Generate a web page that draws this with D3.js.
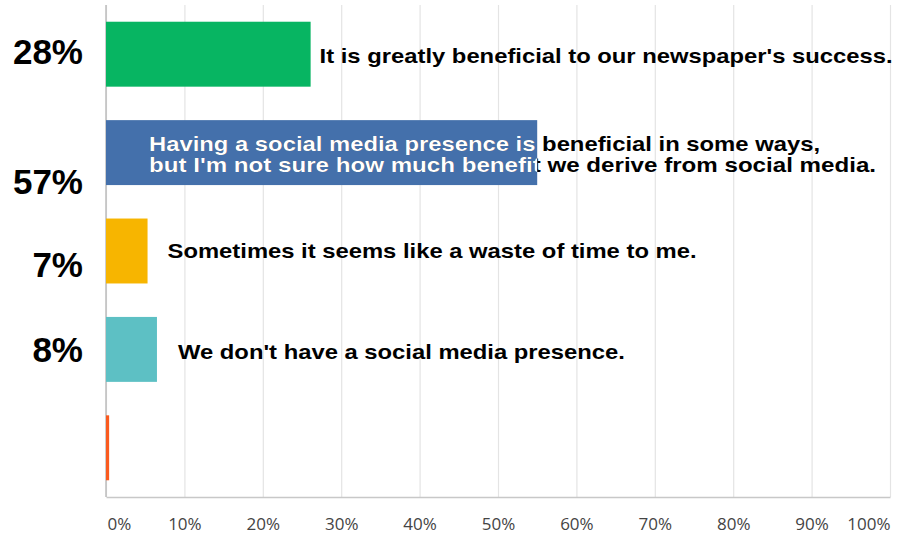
<!DOCTYPE html>
<html>
<head>
<meta charset="utf-8">
<script src="https://cdn.jsdelivr.net/npm/d3@7"></script>
<style>
  body { margin: 0; background: #fff; }
  .tick text { font-family: "Open Sans", sans-serif; font-size: 17px; fill: #444; }
</style>
</head>
<body>
<div id="chart-container"></div>
<script>
"use strict"

// answers, top to bottom
const answers = [
  ["It is greatly beneficial to our newspaper's success."],
  ["Having a social media presence is beneficial in some ways,",
   "but I'm not sure how much benefit we derive from social media."],
  ["Sometimes it seems like a waste of time to me."],
  ["We don't have a social media presence."],
  []
];
// bar lengths as drawn (percent of axis)
const barValues = [26.1, 55.0, 5.3, 6.5, 0.4];
// labels printed at the left
const pctLabels = ["28%", "57%", "7%", "8%", ""];
const barColors = ["#07b562", "#4470ab", "#f7b500", "#5dc0c4", "#fa5a1e"];
const xTicks = [0, 10, 20, 30, 40, 50, 60, 70, 80, 90, 100];

drawChart();

function drawChart(){
  let svgWidth = 910;
  let svgHeight = 535;
  let top = 5, bottom = 497, left = 106, right = 890;

  const svg = d3.select('#chart-container')
    .append('svg')
    .attr('width', svgWidth)
    .attr('height', svgHeight);

  let xScale = d3.scaleLinear().domain([0, 100]).range([left, right]);
  let yScale = d3.scaleBand()
    .domain(d3.range(answers.length))
    .range([top, bottom])
    .paddingInner(0.34)
    .paddingOuter(0.17);

  // gridlines
  const grid = svg.append('g')
    .attr('transform', 'translate(0,' + bottom + ')')
    .call(d3.axisBottom(xScale).tickValues(xTicks).tickSize(-(bottom - top)).tickFormat(''));
  grid.select('.domain').remove();
  grid.selectAll('line').attr('stroke', '#e4e4e4').attr('stroke-width', 1.2);

  // axis with labels
  const xAxis = svg.append('g')
    .attr('transform', 'translate(0,' + bottom + ')')
    .call(d3.axisBottom(xScale).tickValues(xTicks).tickSize(0).tickPadding(21).tickFormat(d => d + '%'));
  xAxis.select('.domain').attr('stroke', '#c8c8c8').attr('stroke-width', 1.5);
  xAxis.selectAll('text')
    .attr('text-anchor', d => d === 0 ? 'start' : (d === 100 ? 'end' : 'middle'))
    .attr('dx', d => d === 0 ? 1 : 0);

  // left axis line
  svg.append('line')
    .attr('x1', xScale(0)).attr('x2', xScale(0))
    .attr('y1', top).attr('y2', bottom)
    .attr('stroke', '#bdbdbd').attr('stroke-width', 1.5);

  // bars
  svg.selectAll('rect.bar')
    .data(barValues)
    .enter()
    .append('rect')
    .attr('class', 'bar')
    .attr('x', xScale(0))
    .attr('y', (d, i) => yScale(i))
    .attr('width', d => xScale(d) - xScale(0))
    .attr('height', yScale.bandwidth())
    .attr('fill', (d, i) => barColors[i]);

  // clip paths matching the bars, for the white part of the text
  const defs = svg.append('defs');
  barValues.forEach((d, i) => {
    defs.append('clipPath').attr('id', 'clip' + i)
      .append('rect')
      .attr('x', xScale(0))
      .attr('y', yScale(i))
      .attr('width', xScale(d) - xScale(0))
      .attr('height', yScale.bandwidth());
  });

  // percent labels at the left
  let labelShift = [-3, 28, 13, 0, 0];
  svg.selectAll('text.pct')
    .data(pctLabels)
    .enter()
    .append('text')
    .attr('class', 'pct')
    .attr('x', 83)
    .attr('y', (d, i) => yScale(i) + yScale.bandwidth() / 2 + 13 + labelShift[i])
    .attr('text-anchor', 'end')
    .style('font-family', '"Liberation Sans", Arial, sans-serif')
    .style('font-weight', 'bold')
    .style('font-size', '35px')
    .style('fill', '#000')
    .text(d => d);

  // answer text
  let textGap = [9, null, 20, 21, 0];
  let lineDy = [[9], [-2, 19], [7], [10], []];
  let lineWidths = [[573], [671, 727], [529], [447], []];

  function answerX(i){
    return textGap[i] === null ? xScale(0) + 43 : xScale(barValues[i]) + textGap[i];
  }

  function addText(color, clipped){
    answers.forEach((lines, i) => {
      let g = svg.append('g');
      if (clipped) g.attr('clip-path', 'url(#clip' + i + ')');
      lines.forEach((line, j) => {
        g.append('text')
          .attr('x', answerX(i))
          .attr('y', yScale(i) + yScale.bandwidth() / 2 + lineDy[i][j])
          .attr('textLength', lineWidths[i][j])
          .attr('lengthAdjust', 'spacingAndGlyphs')
          .style('font-family', '"Liberation Sans", Arial, sans-serif')
          .style('font-weight', 'bold')
          .style('font-size', '21px')
          .style('fill', color)
          .text(line);
      });
    });
  }
  addText('#000', false);
  addText('#fff', true);
}
</script>
</body>
</html>
